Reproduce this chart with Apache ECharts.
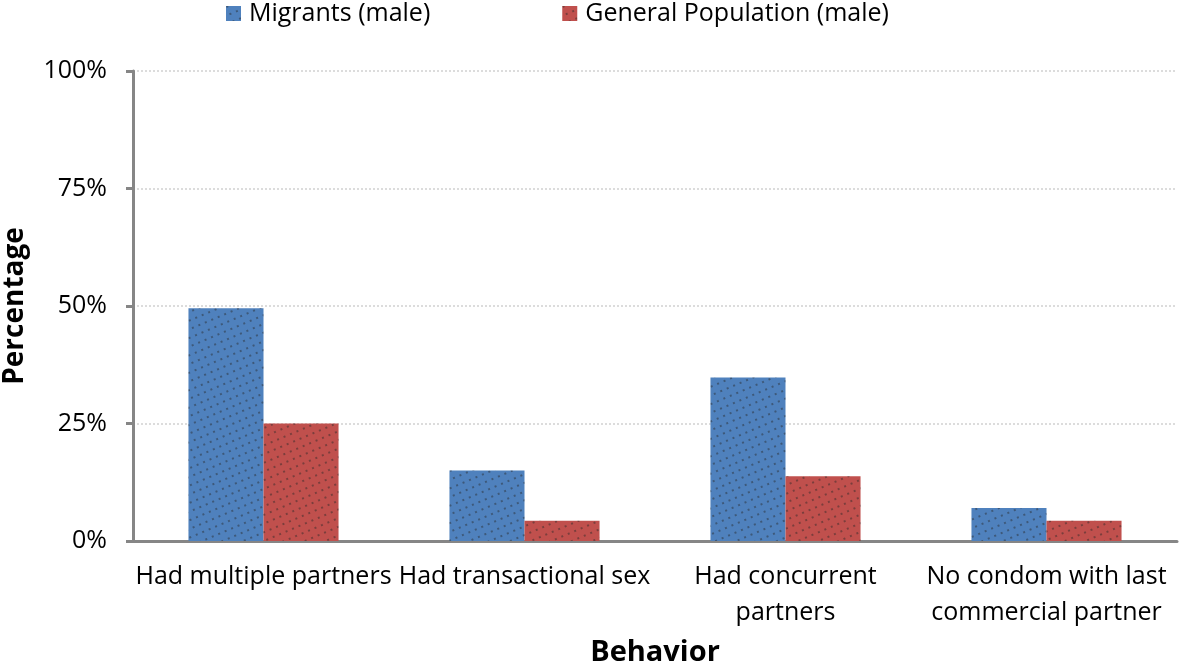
<!DOCTYPE html>
<html><head><meta charset="utf-8">
<script src="https://cdn.jsdelivr.net/npm/echarts@6/dist/echarts.min.js"></script>
<style>html,body{margin:0;padding:0;background:#fff}#c{width:1181px;height:662px}</style>
</head><body><div id="c"></div>
<script>
const categories = ['Had multiple partners', 'Had transactional sex', 'Had concurrent\npartners', 'No condom with last\ncommercial partner'];
const migrants = [49.5, 15.0, 34.8, 7.0];
const general = [25.0, 4.3, 13.8, 4.3];
const seriesNames = ['Migrants (male)', 'General Population (male)'];
const font = '"Open Sans", sans-serif';
const decal = {symbol: 'rect', symbolSize: 1, dashArrayX: [1.5, 5], dashArrayY: [1.5, 6], rotation: -0.4, color: 'rgba(40,40,40,0.45)'};
const chart = echarts.init(document.getElementById('c'));
chart.setOption({
  animation: false,
  textStyle: {fontFamily: font},
  legend: {
    top: -4, left: 221, itemWidth: 15, itemHeight: 15, itemGap: 132, icon: 'rect',
    textStyle: {fontSize: 25, color: '#000', fontFamily: font, padding: [0, 0, 0, 3]}
  },
  grid: {left: 133, right: 4, top: 71, bottom: 121, outerBoundsMode: 'none', containLabel: false},
  xAxis: {
    type: 'category', data: categories,
    name: 'Behavior', nameLocation: 'middle', nameGap: 97,
    nameTextStyle: {fontSize: 29, fontWeight: 'bold', color: '#000', fontFamily: font},
    axisLine: {lineStyle: {color: '#868686', width: 3}},
    axisTick: {show: false},
    axisLabel: {fontSize: 25, color: '#000', margin: 18, lineHeight: 36, interval: 0, fontFamily: font}
  },
  yAxis: {
    type: 'value', min: 0, max: 100, interval: 25,
    name: 'Percentage', nameLocation: 'middle', nameGap: 104, nameRotate: 90,
    nameTextStyle: {fontSize: 28, fontWeight: 'bold', color: '#000', fontFamily: font},
    axisLine: {show: true, lineStyle: {color: '#868686', width: 3}},
    axisTick: {show: true, length: 7, lineStyle: {color: '#868686', width: 3}},
    axisLabel: {fontSize: 25, color: '#000', margin: 26, formatter: '{value}%', fontFamily: font},
    splitLine: {lineStyle: {color: '#dcdcdc', type: 'dotted', width: 2}}
  },
  series: [
    {name: seriesNames[0], type: 'bar', data: migrants, barCategoryGap: '42.5%', barGap: '0%',
     itemStyle: {color: '#4F81BD', decal: decal}},
    {name: seriesNames[1], type: 'bar', data: general,
     itemStyle: {color: '#C0504D', decal: decal}}
  ]
});
</script></body></html>
